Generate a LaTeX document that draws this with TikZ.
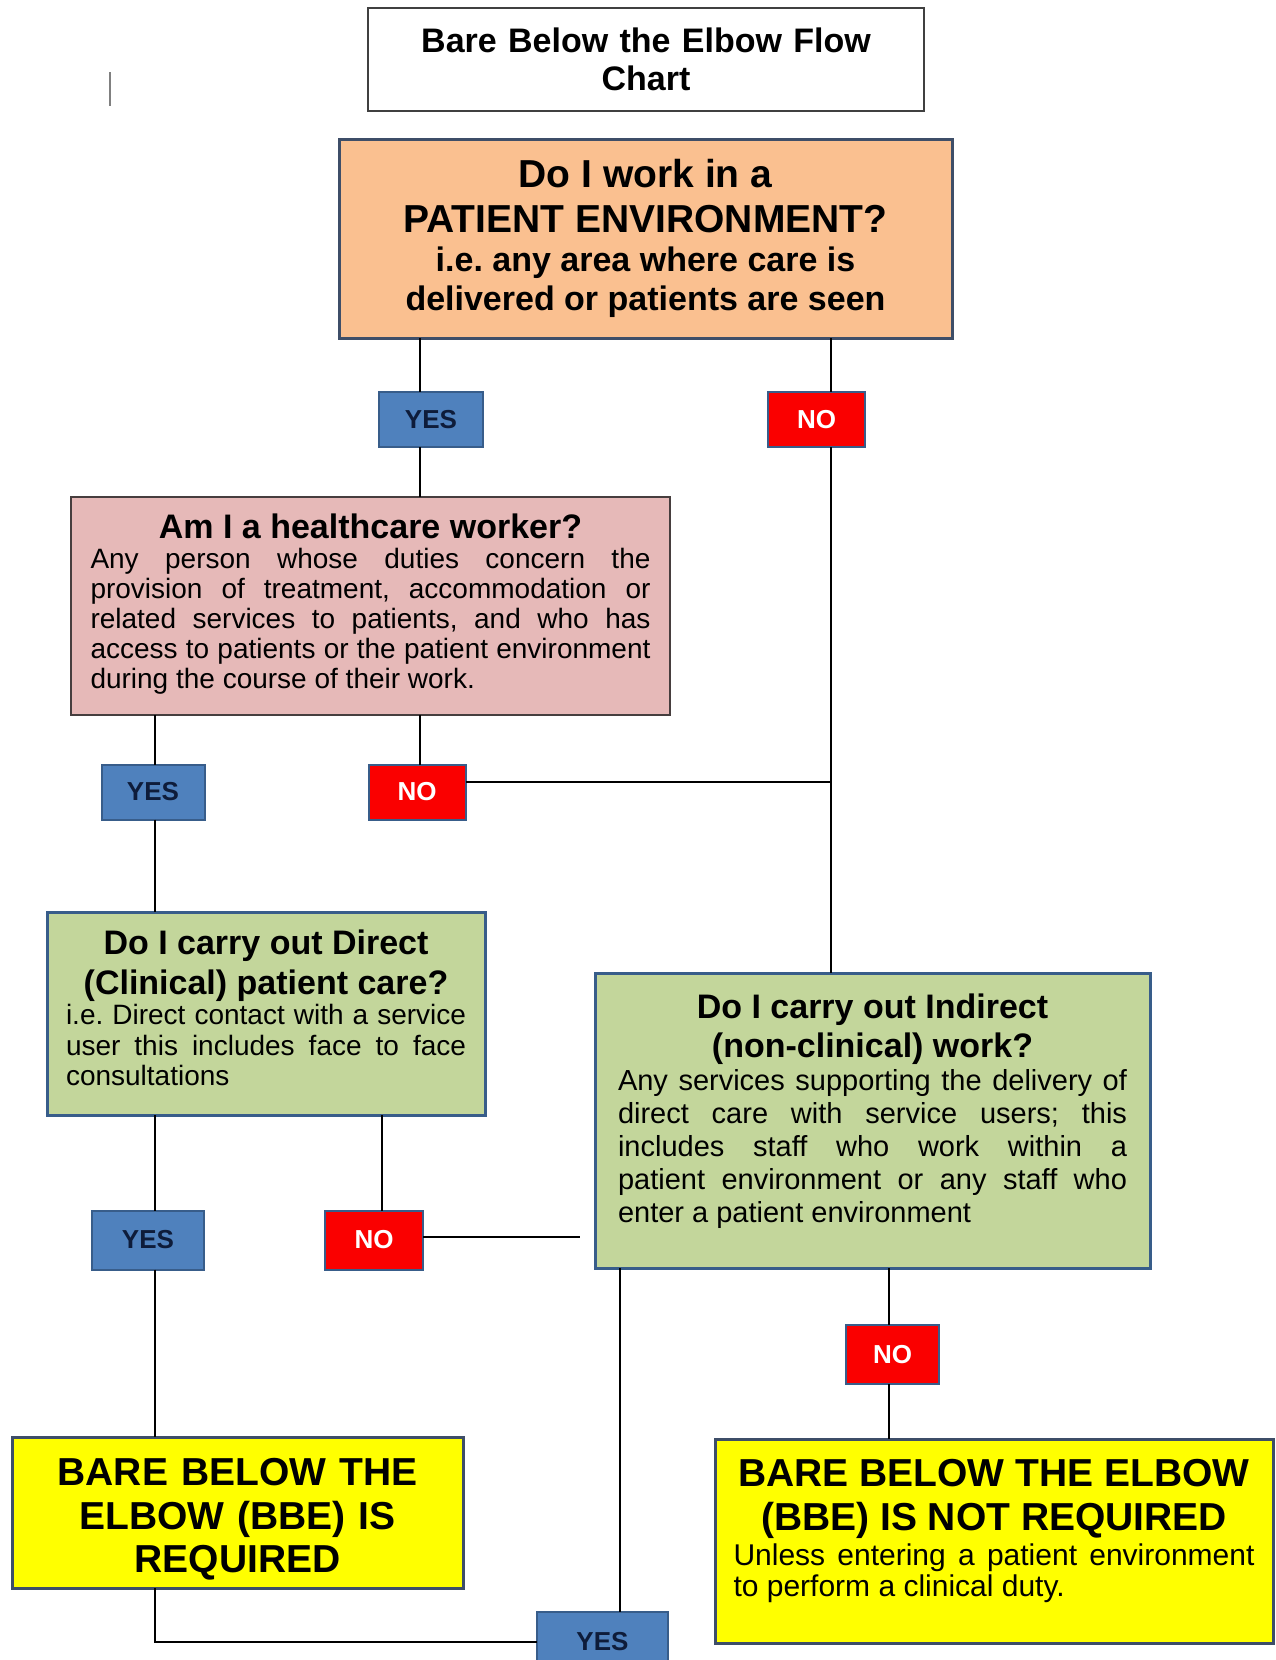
\documentclass[tikz,border=0pt]{standalone}
\usepackage{fontspec}
\setmainfont{Liberation Sans}
\usepackage{xcolor}
\definecolor{envfill}{RGB}{250,192,144}
\definecolor{workfill}{RGB}{230,185,184}
\definecolor{carefill}{RGB}{195,214,155}
\definecolor{bbefill}{RGB}{255,255,0}
\definecolor{edgeblue}{RGB}{56,93,138}
\definecolor{edgeslate}{RGB}{62,78,104}
\definecolor{edgegrey}{RGB}{70,62,62}
\definecolor{yesfill}{RGB}{79,129,189}
\definecolor{yestext}{RGB}{14,28,58}
\definecolor{nofill}{RGB}{250,0,0}
\setlength{\parindent}{0pt}
\frenchspacing
\hyphenpenalty=10000 \exhyphenpenalty=10000
\newcommand\freespaces{\spaceskip=0pt \xspaceskip=0pt }
\newcommand\fixspaces{\spaceskip=\fontdimen2\font\relax}

\begin{document}
\begin{tikzpicture}[x=1pt,y=-1pt,
  box/.style={draw, line width=3pt, inner sep=0pt, outer sep=0pt},
  answer/.style={draw=edgeblue, line width=2pt, inner sep=0pt, outer sep=0pt,
    font=\fontsize{26}{26}\selectfont\bfseries},
  yesbox/.style={answer, fill=yesfill, text=yestext},
  nobox/.style={answer, fill=nofill, text=white},
  link/.style={line width=1.6pt}]
\useasboundingbox (0,0) rectangle (1275,1660);

\draw[gray, line width=2pt] (110,72) -- (110,106);

\node (title) [box, draw=black!75, line width=2pt, minimum width=556, minimum height=103,
  text width=540, align=center, font=\fontsize{34}{38}\selectfont\bfseries]
  at (646,59.5) {Bare Below the Elbow Flow\\Chart};

\node (env) [box, draw=edgeslate, fill=envfill, minimum width=613, minimum height=199,
  text width=600, align=center, font=\fontsize{34}{39}\selectfont\bfseries] at (645.5,238.5)
  {{\fontsize{39}{45}\selectfont\fixspaces Do I work in a\\PATIENT ENVIRONMENT?\par}
   {\fontsize{34}{39}\selectfont\fixspaces i.e. any area where care is\\delivered or patients are seen\par}};

\node (worker) [box, draw=edgegrey, line width=2pt, fill=workfill, minimum width=599,
  minimum height=218, text width=560, align=justify, font=\fontsize{28}{30}\selectfont]
  at (370.5,606)
  {\freespaces{\centering\fontsize{34}{40}\selectfont\bfseries Am I a healthcare worker?\par}
   \fontsize{28}{30}\selectfont Any person whose duties concern the\linebreak
   provision of treatment, accommodation or\linebreak related services to patients,
   and who has\linebreak access to patients or the patient environment\linebreak
   during the course of their work.\par\kern3pt};

\node (direct) [box, draw=edgeblue, fill=carefill, minimum width=438, minimum height=203,
  text width=400, align=justify, font=\fontsize{28}{30.5}\selectfont] at (266,1013.5)
  {\freespaces{\centering\fontsize{34}{40}\selectfont\bfseries Do I carry out Direct\par
    (Clinical) patient care?\par}
   \fontsize{28}{30.5}\selectfont i.e. Direct contact with a service\linebreak
   user this includes face to face\linebreak consultations\par\kern11pt};

\node (indirect) [box, draw=edgeblue, fill=carefill, minimum width=555, minimum height=295,
  text width=509, align=justify, font=\fontsize{29}{33}\selectfont] at (872.5,1120.5)
  {\freespaces{\centering\fontsize{34}{39}\selectfont\bfseries Do I carry out Indirect\par
    (non-clinical) work?\par}
   \fontsize{29}{33}\selectfont Any services supporting the delivery of\linebreak
   direct care with service users; this\linebreak includes staff who work within
   a\linebreak patient environment or any staff who\linebreak enter a patient
   environment\par\kern19pt};

\node (yellow1) [box, draw=edgeslate, fill=bbefill, minimum width=451, minimum height=151,
  text width=430, align=center, font=\fontsize{39}{43.5}\selectfont\bfseries]
  at (237.5,1512.5) {BARE BELOW THE\\ELBOW (BBE) IS\\REQUIRED\par\kern-14pt};

\node (yellow2) [box, draw=edgeslate, fill=bbefill, minimum width=558, minimum height=204,
  text width=521, align=justify, font=\fontsize{30}{32}\selectfont] at (994,1541)
  {\freespaces{\centering\fontsize{39}{44}\selectfont\bfseries BARE BELOW THE ELBOW\par
    (BBE) IS NOT REQUIRED\par}\vspace{4pt}
   \fontsize{30}{31}\selectfont Unless entering a patient environment\linebreak
   to perform a clinical duty.\par\kern21pt};

\node (yes1) [yesbox, minimum width=104, minimum height=55] at (431,419.5) {YES};
\node (no1) [nobox, minimum width=97, minimum height=55] at (816.5,419.5) {NO};
\node (yes2) [yesbox, minimum width=103, minimum height=55] at (153,792) {YES};
\node (no2) [nobox, minimum width=97, minimum height=55] at (417,792) {NO};
\node (yes3) [yesbox, minimum width=112, minimum height=59] at (148,1240) {YES};
\node (no3) [nobox, minimum width=98, minimum height=59] at (374,1240) {NO};
\node (no4) [nobox, minimum width=93, minimum height=59] at (892.5,1354.5) {NO};
\node (yes4) [yesbox, minimum width=131, minimum height=60] at (602.5,1642) {YES};

\coordinate (xa) at (420,0);
\coordinate (xb) at (155,0);
\coordinate (xc) at (831,0);
\coordinate (xd) at (382,0);
\coordinate (xe) at (620,0);
\coordinate (xf) at (889,0);
\coordinate (nojoin) at (831,782);
\coordinate (noend) at (580,1237);

\draw[link] (env.south -| xa) -- (yes1.north -| xa);
\draw[link] (yes1.south -| xa) -- (worker.north -| xa);
\draw[link] (env.south -| xc) -- (no1.north -| xc);
\draw[link] (no1.south -| xc) -- (indirect.north -| xc);
\draw[link] (worker.south -| xb) -- (yes2.north -| xb);
\draw[link] (yes2.south -| xb) -- (direct.north -| xb);
\draw[link] (worker.south -| xa) -- (no2.north -| xa);
\draw[link] (no2.east |- nojoin) -- (nojoin);
\draw[link] (direct.south -| xb) -- (yes3.north -| xb);
\draw[link] (yes3.south -| xb) -- (yellow1.north -| xb);
\draw[link] (direct.south -| xd) -- (no3.north -| xd);
\draw[link] (no3.east |- noend) -- (noend);
\draw[link] (indirect.south -| xf) -- (no4.north -| xf);
\draw[link] (no4.south -| xf) -- (yellow2.north -| xf);
\draw[link] (indirect.south -| xe) -- (yes4.north -| xe);
\draw[link] (yellow1.south -| xb) |- (yes4.west);
\end{tikzpicture}
\end{document}
